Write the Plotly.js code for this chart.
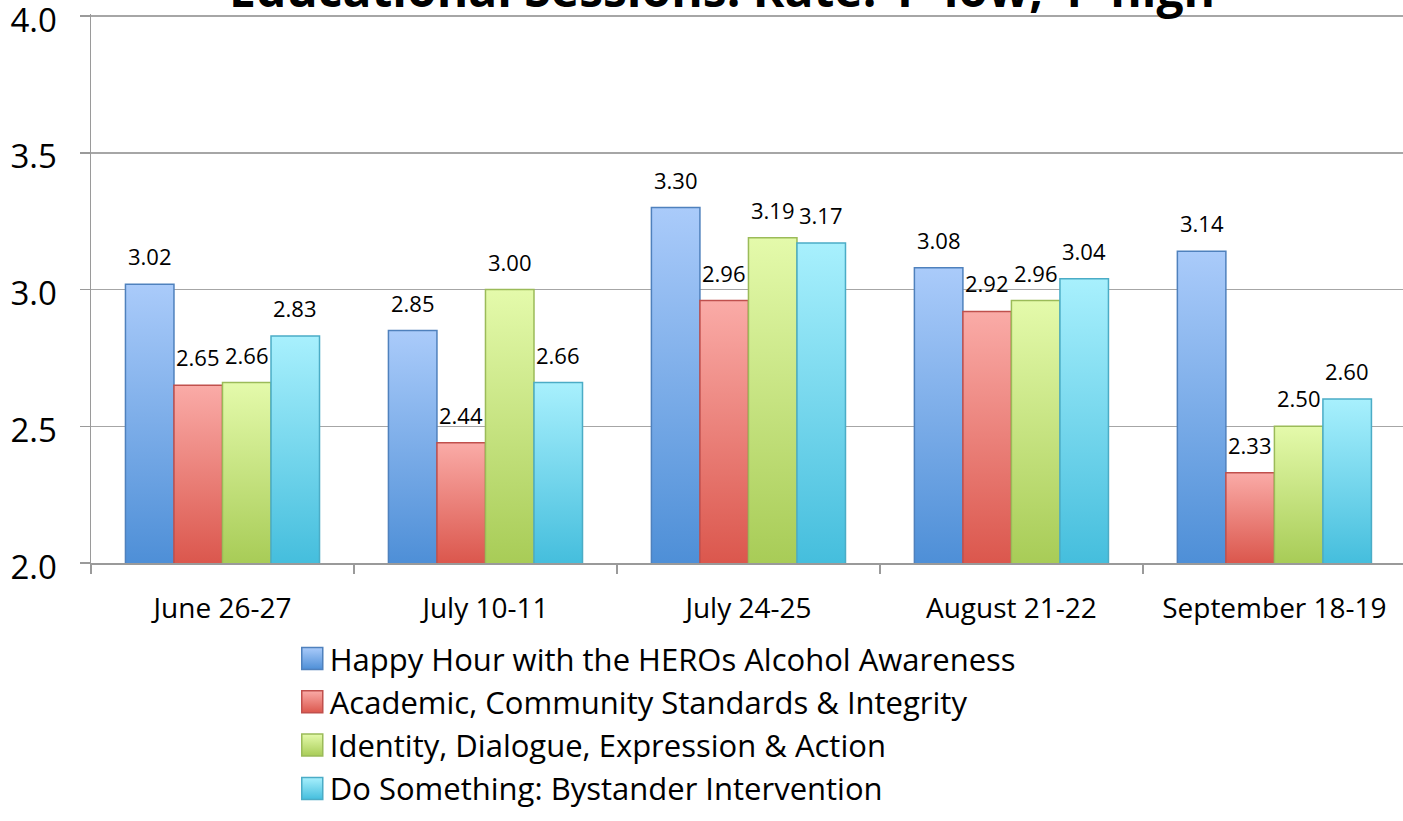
<!DOCTYPE html>
<html>
<head>
<meta charset="utf-8">
<script src="https://cdn.plot.ly/plotly-3.0.1.min.js"></script>
<style>html,body{margin:0;padding:0;background:#fff;overflow:hidden}</style>
</head>
<body>
<div id="chart" style="width:1403px;height:821px"></div>
<script>
const chartTitle = "Educational Sessions: Rate: 1=low, 4=high";
const categories = ["June 26-27", "July 10-11", "July 24-25", "August 21-22", "September 18-19"];
const seriesNames = [
  "Happy Hour with the HEROs Alcohol Awareness",
  "Academic, Community Standards & Integrity",
  "Identity, Dialogue, Expression & Action",
  "Do Something: Bystander Intervention"
];
const happyHour = [3.02, 2.85, 3.30, 3.08, 3.14];
const academic = [2.65, 2.44, 2.96, 2.92, 2.33];
const identity = [2.66, 3.00, 3.19, 2.96, 2.50];
const doSomething = [2.83, 2.66, 3.17, 3.04, 2.60];
const yTickVals = [2.0, 2.5, 3.0, 3.5, 4.0];
const yTickText = ["2.0", "2.5", "3.0", "3.5", "4.0"];

const seriesValues = [happyHour, academic, identity, doSomething];
const borderColors = ["#4F81BD", "#C0504D", "#9BBB59", "#4BACC6"];
const fillColors = ["#7AAAEA", "#EE827C", "#C6E383", "#78D8F0"];
const gradTop = ["#AACBFA", "#FAABA7", "#E4FAAB", "#A8F0FD"];
const gradBottom = ["#4E8FD7", "#DB574D", "#A8CC57", "#45BEDD"];

const bargap = 0.262;
const barPx = 263 * (1 - bargap) / 4;

const traces = seriesValues.map((vals, i) => ({
  type: "bar",
  name: seriesNames[i],
  x: categories,
  y: vals,
  marker: {color: fillColors[i], line: {color: borderColors[i], width: 1.5}},
  hoverinfo: "x+y+name"
}));

const annotations = [];
seriesValues.forEach((vals, i) => {
  vals.forEach((v, j) => {
    annotations.push({
      x: categories[j], y: v, xref: "x", yref: "y",
      text: v.toFixed(2), showarrow: false,
      xshift: (i - 1.5) * barPx, yshift: 28,
      yanchor: "middle", xanchor: "center",
      font: {family: "Open Sans, sans-serif", size: 22, color: "#000"}
    });
  });
});
annotations.push({
  x: 0.481, y: 1, xref: "paper", yref: "paper",
  text: "<b>" + chartTitle + "</b>", showarrow: false,
  xanchor: "center", yanchor: "bottom", yshift: -9,
  font: {family: "Open Sans, sans-serif", size: 48, color: "#000"}
});

const layout = {
  width: 1403, height: 821,
  margin: {l: 91, r: 0, t: 14, b: 258},
  paper_bgcolor: "#fff", plot_bgcolor: "#fff",
  barmode: "group", bargap: bargap, bargroupgap: 0,
  showlegend: true,
  legend: {
    x: 0.1515, xanchor: "left", y: -0.1254, yanchor: "top",
    orientation: "v", traceorder: "normal",
    font: {family: "Open Sans, sans-serif", size: 31, color: "#000"},
    bgcolor: "rgba(0,0,0,0)", borderwidth: 0, tracegroupgap: 0
  },
  xaxis: {
    type: "category", range: [-0.5, 4.489],
    showline: true, linecolor: "#9a9a9a", linewidth: 1.5,
    ticks: "outside", tickson: "boundaries", ticklen: 9, tickcolor: "#9a9a9a", tickwidth: 1.5,
    ticklabelstandoff: 20,
    tickfont: {family: "Open Sans, sans-serif", size: 28, color: "#000"},
    showgrid: false, fixedrange: true
  },
  yaxis: {
    range: [2, 4.008], tickvals: yTickVals, ticktext: yTickText,
    showline: true, linecolor: "#9a9a9a", linewidth: 1.5,
    ticks: "outside", ticklen: 10, tickcolor: "#9a9a9a", tickwidth: 1.5,
    ticklabelstandoff: 16, ticklabelshift: 4, ticklabeloverflow: "allow",
    showgrid: true, gridcolor: "#a6a6a6", gridwidth: 1.5,
    zeroline: false,
    tickfont: {family: "Open Sans, sans-serif", size: 33, color: "#000"},
    fixedrange: true
  },
  annotations: annotations
};

Plotly.newPlot("chart", traces, layout, {displayModeBar: false, staticPlot: true}).then(gd => {
  const svg = gd.querySelector("svg.main-svg");
  const ns = "http://www.w3.org/2000/svg";
  let defs = svg.querySelector("defs");
  if (!defs) { defs = document.createElementNS(ns, "defs"); svg.insertBefore(defs, svg.firstChild); }
  const ya = gd._fullLayout.yaxis;
  const bottomPx = ya.l2p(ya.range[0]);
  function makeGrad(id, i, y1, y2, units) {
    const lg = document.createElementNS(ns, "linearGradient");
    lg.setAttribute("id", id);
    lg.setAttribute("gradientUnits", units);
    lg.setAttribute("x1", "0"); lg.setAttribute("x2", "0");
    lg.setAttribute("y1", String(y1)); lg.setAttribute("y2", String(y2));
    const s1 = document.createElementNS(ns, "stop");
    s1.setAttribute("offset", "0"); s1.setAttribute("stop-color", gradTop[i]);
    const s2 = document.createElementNS(ns, "stop");
    s2.setAttribute("offset", "1"); s2.setAttribute("stop-color", gradBottom[i]);
    lg.appendChild(s1); lg.appendChild(s2);
    defs.appendChild(lg);
  }
  gd.querySelectorAll(".barlayer .trace.bars").forEach((t, i) => {
    t.querySelectorAll("path").forEach((p, j) => {
      const bb = p.getBBox();
      const id = "bargrad" + i + "_" + j;
      makeGrad(id, i, bb.y, Math.min(bottomPx, bb.y + bb.height), "userSpaceOnUse");
      p.style.fill = "url(#" + id + ")";
    });
  });
  gd.querySelectorAll(".legend .traces").forEach((t, i) => {
    makeGrad("leggrad" + i, i, 0, 1, "objectBoundingBox");
    t.querySelectorAll(".legendpoints path").forEach(p => {
      p.setAttribute("d", "M13,11H-8V-11H13Z");
      p.style.fill = "url(#leggrad" + i + ")";
    });
  });
});
</script>
</body>
</html>
